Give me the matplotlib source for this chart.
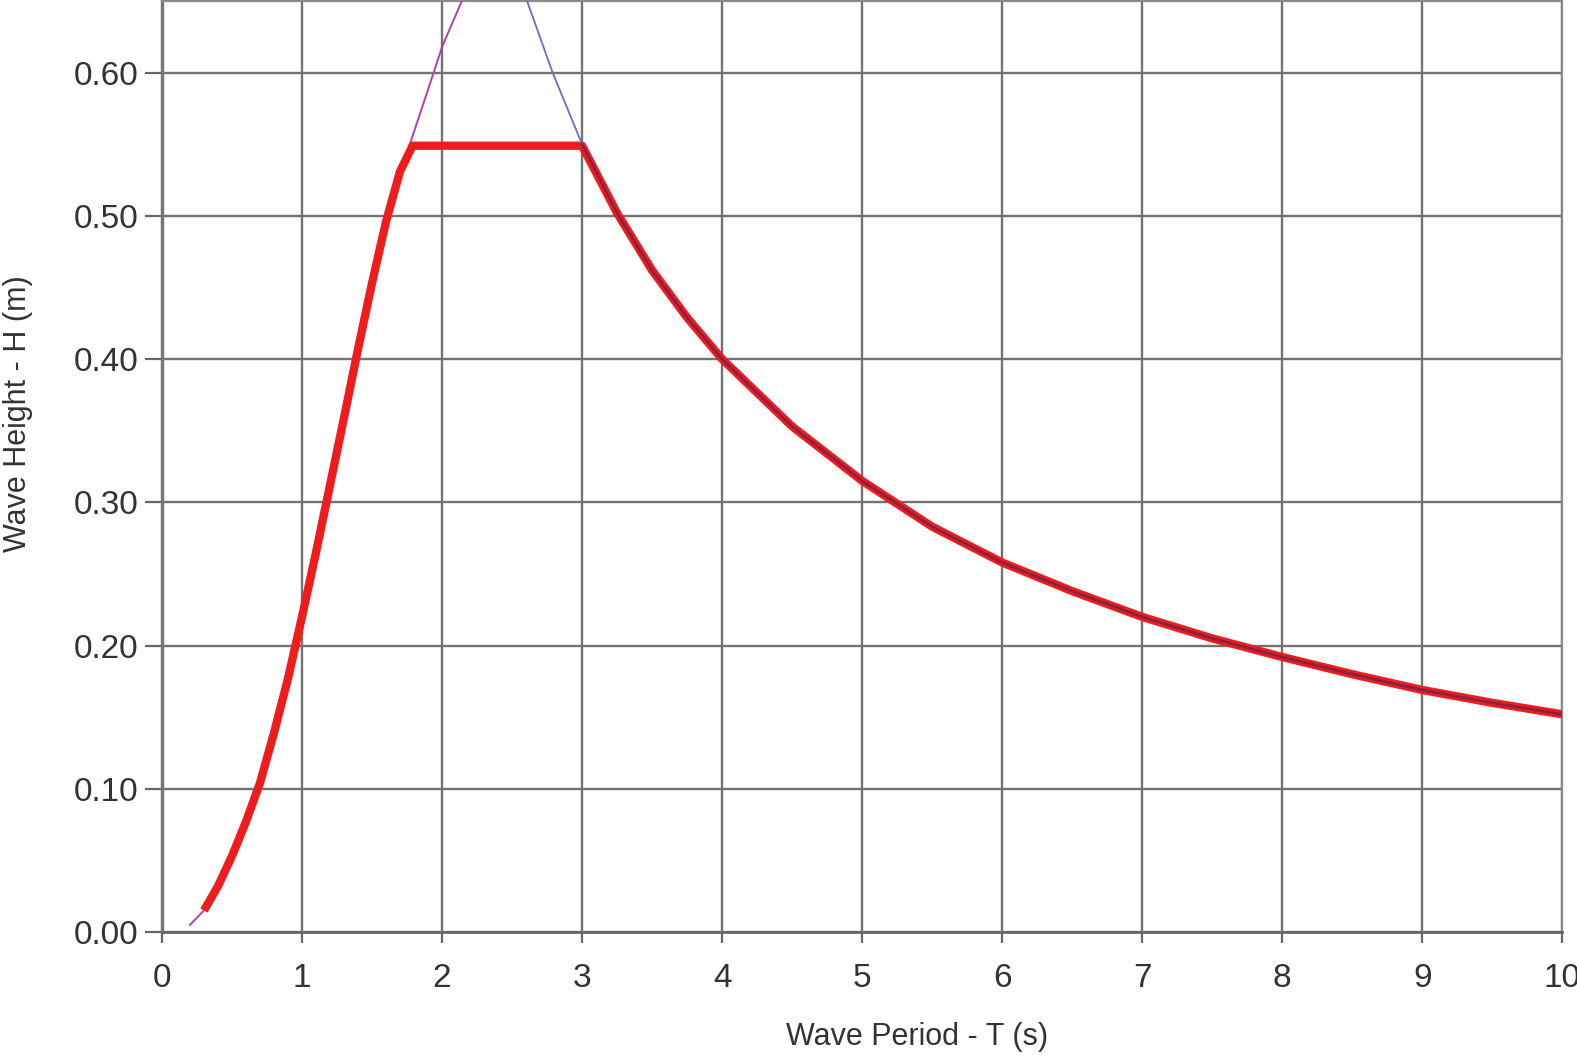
import numpy as np
import matplotlib
matplotlib.use("Agg")
import matplotlib.pyplot as plt

plt.rcParams['font.family'] = ['Liberation Sans', 'DejaVu Sans']

# limiting wave height envelope (red)
env_T = [0.30, 0.40, 0.50, 0.60, 0.70, 0.80, 0.90, 1.00, 1.10, 1.20, 1.30, 1.40,
         1.50, 1.60, 1.70, 1.79, 3.00, 3.25, 3.50, 3.75, 4.00, 4.50, 5.00, 5.50,
         6.00, 6.50, 7.00, 7.50, 8.00, 8.50, 9.00, 9.50, 10.00]
env_H = [0.015, 0.032, 0.053, 0.077, 0.104, 0.139, 0.177, 0.220, 0.265, 0.312,
         0.359, 0.407, 0.453, 0.496, 0.531, 0.549, 0.549, 0.502, 0.462, 0.429,
         0.400, 0.353, 0.315, 0.283, 0.258, 0.238, 0.220, 0.205, 0.192, 0.180,
         0.169, 0.160, 0.152]

# rising curve (magenta)
rise_T = [0.20, 0.30, 0.40, 0.50, 0.60, 0.70, 0.80, 0.90, 1.00, 1.10, 1.20, 1.30,
          1.40, 1.50, 1.60, 1.70, 1.77, 1.94, 2.00, 2.15]
rise_H = [0.005, 0.015, 0.032, 0.053, 0.077, 0.104, 0.139, 0.177, 0.220, 0.265,
          0.312, 0.359, 0.407, 0.453, 0.496, 0.531, 0.550, 0.600, 0.618, 0.652]

# falling curve (blue)
fall_T = [2.60, 2.79, 3.00, 3.25, 3.50, 3.75, 4.00, 4.50, 5.00, 5.50, 6.00, 6.50,
          7.00, 7.50, 8.00, 8.50, 9.00, 9.50, 10.00]
fall_H = [0.652, 0.600, 0.550, 0.502, 0.462, 0.429, 0.400, 0.353, 0.315, 0.283,
          0.258, 0.238, 0.220, 0.205, 0.192, 0.180, 0.169, 0.160, 0.152]

fig = plt.figure(figsize=(15.77, 10.62), dpi=100)
ax = fig.add_axes([0.1027, 0.1224, 0.888, 0.8766])

ax.plot(rise_T, rise_H, color='#b040b0', linewidth=1.4, zorder=3)
ax.plot(env_T, env_H, color='#ee1c1c', linewidth=6.0, solid_joinstyle='round',
        solid_capstyle='butt', zorder=4)
ax.plot(fall_T[:3], fall_H[:3], color='#6a6ad0', linewidth=1.3, zorder=5)
ax.plot(fall_T[2:], fall_H[2:], color='#502060', linewidth=2.0, alpha=0.6, zorder=5)

ax.set_xlim(0, 10)
ax.set_ylim(0, 0.65)
ax.set_xticks(np.arange(0, 11, 1))
ax.set_yticks(np.arange(0, 0.61, 0.1))
ax.set_yticklabels(['{:.2f}'.format(v) for v in np.arange(0, 0.61, 0.1)])
ax.grid(True, color='#727272', linewidth=1.7)
ax.set_axisbelow(True)

for s in ax.spines.values():
    s.set_color('#8a8a8a')
    s.set_linewidth(1.6)
ax.spines['left'].set_color('#777777')
ax.spines['left'].set_linewidth(2.5)
ax.spines['bottom'].set_color('#666666')
ax.spines['bottom'].set_linewidth(2.0)

ax.tick_params(axis='both', which='major', labelsize=24, color='#666666',
               width=1.6, labelcolor='#333333')
ax.tick_params(axis='y', length=12, pad=5)
ax.tick_params(axis='x', length=8, pad=14)

ax.set_xlabel('Wave Period - T (s)', fontsize=22, color='#333333')
ax.set_ylabel('Wave Height - H (m)', fontsize=22, color='#333333')
ax.xaxis.set_label_coords(0.539, -0.097)
ax.yaxis.set_label_coords(-0.092, 0.557)

fig.savefig('out.png', dpi=100)
